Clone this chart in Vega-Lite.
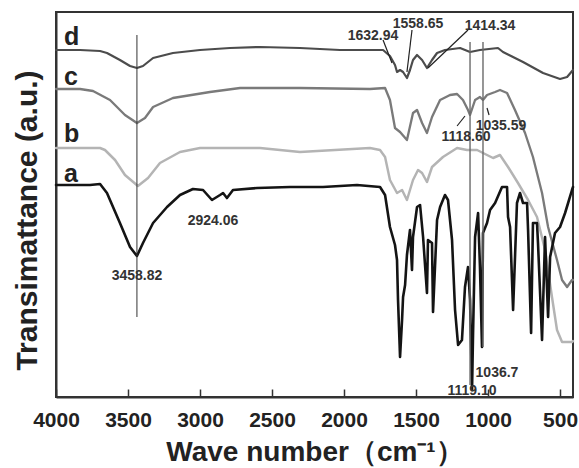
{
  "$schema": "https://vega.github.io/schema/vega-lite/v6.json",
  "width": 517,
  "height": 385,
  "autosize": "none",
  "padding": {"left": 56, "top": 12, "right": 6, "bottom": 71},
  "background": "white",
  "config": {"view": {"stroke": "#333333", "strokeWidth": 2}, "font": "Liberation Sans"},
  "datasets": {
    "spectra": [
      {"s": "d", "x": 4000, "y": 347}, {"s": "d", "x": 3833, "y": 347}, {"s": "d", "x": 3694, "y": 346}, {"s": "d", "x": 3646, "y": 344}, {"s": "d", "x": 3556, "y": 337}, {"s": "d", "x": 3486, "y": 331}, {"s": "d", "x": 3438, "y": 329}, {"s": "d", "x": 3396, "y": 331}, {"s": "d", "x": 3326, "y": 339}, {"s": "d", "x": 3188, "y": 344}, {"s": "d", "x": 3000, "y": 347}, {"s": "d", "x": 2792, "y": 349}, {"s": "d", "x": 2583, "y": 350}, {"s": "d", "x": 2306, "y": 349}, {"s": "d", "x": 2028, "y": 347}, {"s": "d", "x": 1729, "y": 347}, {"s": "d", "x": 1681, "y": 341}, {"s": "d", "x": 1646, "y": 332}, {"s": "d", "x": 1632, "y": 325}, {"s": "d", "x": 1611, "y": 327}, {"s": "d", "x": 1590, "y": 325}, {"s": "d", "x": 1563, "y": 319}, {"s": "d", "x": 1542, "y": 327}, {"s": "d", "x": 1521, "y": 337}, {"s": "d", "x": 1493, "y": 342}, {"s": "d", "x": 1458, "y": 337}, {"s": "d", "x": 1424, "y": 329}, {"s": "d", "x": 1389, "y": 337}, {"s": "d", "x": 1354, "y": 344}, {"s": "d", "x": 1299, "y": 347}, {"s": "d", "x": 1194, "y": 349}, {"s": "d", "x": 1125, "y": 345}, {"s": "d", "x": 1056, "y": 347}, {"s": "d", "x": 931, "y": 349}, {"s": "d", "x": 896, "y": 345}, {"s": "d", "x": 757, "y": 335}, {"s": "d", "x": 618, "y": 324}, {"s": "d", "x": 500, "y": 318}, {"s": "d", "x": 451, "y": 320}, {"s": "d", "x": 410, "y": 327},
      {"s": "c", "x": 4000, "y": 308}, {"s": "c", "x": 3833, "y": 308}, {"s": "c", "x": 3743, "y": 306}, {"s": "c", "x": 3625, "y": 297}, {"s": "c", "x": 3521, "y": 282}, {"s": "c", "x": 3438, "y": 274}, {"s": "c", "x": 3382, "y": 279}, {"s": "c", "x": 3326, "y": 290}, {"s": "c", "x": 3188, "y": 299}, {"s": "c", "x": 2931, "y": 305}, {"s": "c", "x": 2722, "y": 309}, {"s": "c", "x": 2306, "y": 309}, {"s": "c", "x": 1820, "y": 308}, {"s": "c", "x": 1715, "y": 309}, {"s": "c", "x": 1681, "y": 297}, {"s": "c", "x": 1646, "y": 269}, {"s": "c", "x": 1611, "y": 265}, {"s": "c", "x": 1563, "y": 257}, {"s": "c", "x": 1521, "y": 284}, {"s": "c", "x": 1493, "y": 287}, {"s": "c", "x": 1458, "y": 274}, {"s": "c", "x": 1424, "y": 264}, {"s": "c", "x": 1389, "y": 280}, {"s": "c", "x": 1333, "y": 297}, {"s": "c", "x": 1264, "y": 302}, {"s": "c", "x": 1215, "y": 303}, {"s": "c", "x": 1174, "y": 297}, {"s": "c", "x": 1139, "y": 287}, {"s": "c", "x": 1125, "y": 282}, {"s": "c", "x": 1090, "y": 297}, {"s": "c", "x": 1056, "y": 300}, {"s": "c", "x": 1035, "y": 297}, {"s": "c", "x": 1007, "y": 302}, {"s": "c", "x": 951, "y": 305}, {"s": "c", "x": 917, "y": 307}, {"s": "c", "x": 868, "y": 304}, {"s": "c", "x": 813, "y": 287}, {"s": "c", "x": 743, "y": 264}, {"s": "c", "x": 688, "y": 240}, {"s": "c", "x": 625, "y": 204}, {"s": "c", "x": 583, "y": 170}, {"s": "c", "x": 521, "y": 137}, {"s": "c", "x": 486, "y": 117}, {"s": "c", "x": 451, "y": 110}, {"s": "c", "x": 417, "y": 117}, {"s": "c", "x": 410, "y": 117},
      {"s": "b", "x": 4000, "y": 249}, {"s": "b", "x": 3694, "y": 249}, {"s": "b", "x": 3660, "y": 247}, {"s": "b", "x": 3590, "y": 237}, {"s": "b", "x": 3521, "y": 222}, {"s": "b", "x": 3431, "y": 211}, {"s": "b", "x": 3361, "y": 219}, {"s": "b", "x": 3278, "y": 234}, {"s": "b", "x": 3139, "y": 245}, {"s": "b", "x": 3000, "y": 249}, {"s": "b", "x": 2583, "y": 249}, {"s": "b", "x": 2306, "y": 245}, {"s": "b", "x": 1820, "y": 249}, {"s": "b", "x": 1750, "y": 247}, {"s": "b", "x": 1715, "y": 240}, {"s": "b", "x": 1681, "y": 217}, {"s": "b", "x": 1632, "y": 204}, {"s": "b", "x": 1597, "y": 207}, {"s": "b", "x": 1563, "y": 197}, {"s": "b", "x": 1521, "y": 217}, {"s": "b", "x": 1486, "y": 227}, {"s": "b", "x": 1458, "y": 224}, {"s": "b", "x": 1424, "y": 215}, {"s": "b", "x": 1389, "y": 230}, {"s": "b", "x": 1313, "y": 240}, {"s": "b", "x": 1215, "y": 249}, {"s": "b", "x": 1146, "y": 247}, {"s": "b", "x": 1076, "y": 247}, {"s": "b", "x": 1007, "y": 242}, {"s": "b", "x": 965, "y": 239}, {"s": "b", "x": 917, "y": 242}, {"s": "b", "x": 861, "y": 230}, {"s": "b", "x": 792, "y": 214}, {"s": "b", "x": 722, "y": 197}, {"s": "b", "x": 660, "y": 180}, {"s": "b", "x": 604, "y": 147}, {"s": "b", "x": 556, "y": 100}, {"s": "b", "x": 521, "y": 67}, {"s": "b", "x": 486, "y": 55}, {"s": "b", "x": 417, "y": 55}, {"s": "b", "x": 410, "y": 56},
      {"s": "a", "x": 4000, "y": 212}, {"s": "a", "x": 3764, "y": 212}, {"s": "a", "x": 3694, "y": 213}, {"s": "a", "x": 3646, "y": 204}, {"s": "a", "x": 3556, "y": 174}, {"s": "a", "x": 3486, "y": 150}, {"s": "a", "x": 3438, "y": 141}, {"s": "a", "x": 3396, "y": 154}, {"s": "a", "x": 3326, "y": 174}, {"s": "a", "x": 3229, "y": 190}, {"s": "a", "x": 3139, "y": 202}, {"s": "a", "x": 3049, "y": 208}, {"s": "a", "x": 2979, "y": 207}, {"s": "a", "x": 2917, "y": 197}, {"s": "a", "x": 2861, "y": 202}, {"s": "a", "x": 2840, "y": 204}, {"s": "a", "x": 2813, "y": 199}, {"s": "a", "x": 2771, "y": 207}, {"s": "a", "x": 2604, "y": 209}, {"s": "a", "x": 2375, "y": 210}, {"s": "a", "x": 2146, "y": 210}, {"s": "a", "x": 1910, "y": 212}, {"s": "a", "x": 1750, "y": 210}, {"s": "a", "x": 1715, "y": 202}, {"s": "a", "x": 1681, "y": 170}, {"s": "a", "x": 1646, "y": 152}, {"s": "a", "x": 1632, "y": 137}, {"s": "a", "x": 1625, "y": 97}, {"s": "a", "x": 1611, "y": 40}, {"s": "a", "x": 1597, "y": 77}, {"s": "a", "x": 1590, "y": 100}, {"s": "a", "x": 1576, "y": 112}, {"s": "a", "x": 1563, "y": 142}, {"s": "a", "x": 1542, "y": 167}, {"s": "a", "x": 1528, "y": 127}, {"s": "a", "x": 1521, "y": 160}, {"s": "a", "x": 1493, "y": 190}, {"s": "a", "x": 1472, "y": 192}, {"s": "a", "x": 1451, "y": 160}, {"s": "a", "x": 1424, "y": 104}, {"s": "a", "x": 1417, "y": 157}, {"s": "a", "x": 1389, "y": 154}, {"s": "a", "x": 1382, "y": 85}, {"s": "a", "x": 1354, "y": 177}, {"s": "a", "x": 1333, "y": 190}, {"s": "a", "x": 1299, "y": 202}, {"s": "a", "x": 1278, "y": 197}, {"s": "a", "x": 1250, "y": 157}, {"s": "a", "x": 1229, "y": 87}, {"s": "a", "x": 1208, "y": 52}, {"s": "a", "x": 1181, "y": 57}, {"s": "a", "x": 1160, "y": 110}, {"s": "a", "x": 1139, "y": 130}, {"s": "a", "x": 1125, "y": 97}, {"s": "a", "x": 1111, "y": 7}, {"s": "a", "x": 1104, "y": 64}, {"s": "a", "x": 1090, "y": 160}, {"s": "a", "x": 1069, "y": 184}, {"s": "a", "x": 1056, "y": 130}, {"s": "a", "x": 1042, "y": 50}, {"s": "a", "x": 1035, "y": 164}, {"s": "a", "x": 1007, "y": 174}, {"s": "a", "x": 986, "y": 187}, {"s": "a", "x": 951, "y": 194}, {"s": "a", "x": 903, "y": 210}, {"s": "a", "x": 868, "y": 210}, {"s": "a", "x": 861, "y": 180}, {"s": "a", "x": 847, "y": 170}, {"s": "a", "x": 826, "y": 87}, {"s": "a", "x": 799, "y": 194}, {"s": "a", "x": 778, "y": 204}, {"s": "a", "x": 757, "y": 194}, {"s": "a", "x": 729, "y": 194}, {"s": "a", "x": 722, "y": 167}, {"s": "a", "x": 701, "y": 64}, {"s": "a", "x": 688, "y": 174}, {"s": "a", "x": 660, "y": 174}, {"s": "a", "x": 653, "y": 154}, {"s": "a", "x": 625, "y": 57}, {"s": "a", "x": 604, "y": 160}, {"s": "a", "x": 583, "y": 80}, {"s": "a", "x": 569, "y": 140}, {"s": "a", "x": 535, "y": 164}, {"s": "a", "x": 500, "y": 170}, {"s": "a", "x": 465, "y": 184}, {"s": "a", "x": 444, "y": 194}, {"s": "a", "x": 417, "y": 207}, {"s": "a", "x": 410, "y": 210}
    ],
    "vlines": [
      {"kind": "left", "x": 3438, "y": 362, "y2": 80},
      {"kind": "right", "x": 1125, "y": 355, "y2": 12},
      {"kind": "right", "x": 1035, "y": 355, "y2": 50}
    ],
    "leaders": [
      {"x": 1729, "x2": 1667, "y": 357, "y2": 334},
      {"x": 1528, "x2": 1563, "y": 367, "y2": 325},
      {"x": 1139, "x2": 1417, "y": 367, "y2": 329},
      {"x": 1215, "x2": 1160, "y": 271, "y2": 281},
      {"x": 1007, "x2": 993, "y": 289, "y2": 282}
    ],
    "letters": [
      {"t": "d", "x": 3945, "y": 352},
      {"t": "c", "x": 3945, "y": 312},
      {"t": "b", "x": 3945, "y": 255},
      {"t": "a", "x": 3945, "y": 215}
    ],
    "peaks": [
      {"t": "1632.94", "x": 1799, "y": 361},
      {"t": "1558.65", "x": 1486, "y": 373},
      {"t": "1414.34", "x": 986, "y": 371},
      {"t": "1118.60", "x": 1153, "y": 260},
      {"t": "1035.59", "x": 910, "y": 271},
      {"t": "3458.82", "x": 3438, "y": 121},
      {"t": "2924.06", "x": 2910, "y": 176},
      {"t": "1036.7", "x": 938, "y": 24},
      {"t": "1119.10", "x": 1111, "y": 6}
    ]
  },
  "layer": [
    {
      "data": {"name": "spectra"},
      "mark": {"type": "line", "strokeJoin": "round", "strokeCap": "round"},
      "encoding": {
        "x": {
          "field": "x", "type": "quantitative",
          "scale": {"domain": [4000, 410], "nice": false, "zero": false},
          "axis": {
            "values": [4000, 3750, 3500, 3250, 3000, 2750, 2500, 2250, 2000, 1750, 1500, 1250, 1000, 750, 500],
            "labelExpr": "datum.value % 500 === 0 ? format(datum.value, 'd') : ''",
            "tickSize": {"condition": {"test": "datum.value % 500 === 0", "value": -8}, "value": -5},
            "tickColor": "#333333", "tickWidth": 1.5,
            "domainColor": "#333333", "domainWidth": 2,
            "grid": false,
            "labelFont": "Liberation Sans", "labelFontSize": 21, "labelFontWeight": "bold", "labelColor": "#222222",
            "labelPadding": 20, "labelFlush": false, "labelOverlap": false,
            "title": "Wave number（cm⁻¹）",
            "titleFont": "Liberation Sans", "titleFontSize": 28, "titleFontWeight": "bold", "titleColor": "#222222",
            "titlePadding": 8
          }
        },
        "y": {
          "field": "y", "type": "quantitative",
          "scale": {"domain": [0, 385], "nice": false, "zero": false},
          "axis": {
            "labels": false, "ticks": false, "grid": false,
            "domainColor": "#333333", "domainWidth": 2,
            "title": "Transimattance (a.u.)",
            "titleFont": "Liberation Sans", "titleFontSize": 30, "titleFontWeight": "bold", "titleColor": "#222222",
            "titlePadding": 14, "titleY": 208
          }
        },
        "color": {"field": "s", "type": "nominal", "scale": {"domain": ["a", "b", "c", "d"], "range": ["#141414", "#b4b4b4", "#7a7a7a", "#4c4c4c"]}, "legend": null},
        "size": {"field": "s", "type": "nominal", "scale": {"domain": ["a", "b", "c", "d"], "range": [2.6, 2.2, 2.2, 2.2]}, "legend": null}
      }
    },
    {
      "data": {"name": "vlines"},
      "transform": [{"filter": "datum.kind === 'left'"}],
      "mark": {"type": "rule", "color": "#333333", "strokeWidth": 1},
      "encoding": {"x": {"field": "x", "type": "quantitative"}, "y": {"field": "y", "type": "quantitative"}, "y2": {"field": "y2"}}
    },
    {
      "data": {"name": "vlines"},
      "transform": [{"filter": "datum.kind === 'right'"}],
      "mark": {"type": "rule", "color": "#6a6a6a", "strokeWidth": 1.4},
      "encoding": {"x": {"field": "x", "type": "quantitative"}, "y": {"field": "y", "type": "quantitative"}, "y2": {"field": "y2"}}
    },
    {
      "data": {"name": "leaders"},
      "mark": {"type": "rule", "color": "#222222", "strokeWidth": 1.2},
      "encoding": {"x": {"field": "x", "type": "quantitative"}, "x2": {"field": "x2"}, "y": {"field": "y", "type": "quantitative"}, "y2": {"field": "y2"}}
    },
    {
      "data": {"name": "letters"},
      "mark": {"type": "text", "font": "Liberation Sans", "fontSize": 25, "fontWeight": "bold", "color": "#222222", "align": "left", "baseline": "alphabetic"},
      "encoding": {"x": {"field": "x", "type": "quantitative"}, "y": {"field": "y", "type": "quantitative"}, "text": {"field": "t"}}
    },
    {
      "data": {"name": "peaks"},
      "mark": {"type": "text", "font": "Liberation Sans", "fontSize": 14, "fontWeight": "bold", "color": "#333333", "align": "center", "baseline": "middle"},
      "encoding": {"x": {"field": "x", "type": "quantitative"}, "y": {"field": "y", "type": "quantitative"}, "text": {"field": "t"}}
    }
  ]
}
